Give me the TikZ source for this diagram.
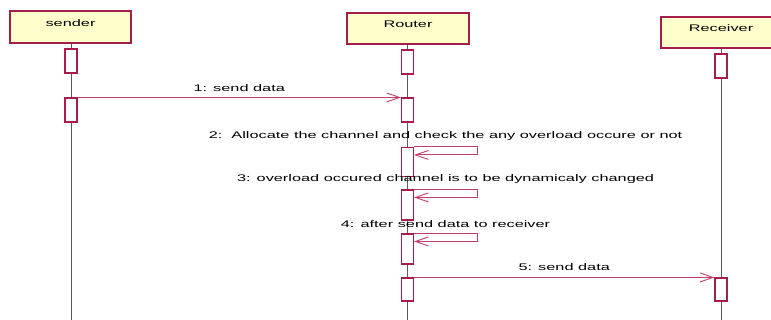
\documentclass[tikz,border=0pt]{standalone}
\usepackage{fontspec}
\setmainfont{Liberation Sans}[FakeStretch=1.7]
\usetikzlibrary{arrows.meta}
\definecolor{umlred}{RGB}{165,30,75}
\definecolor{msgred}{RGB}{195,60,110}
\definecolor{umlyellow}{RGB}{255,255,204}
\tikzstyle{line} = [draw=msgred, line width=0.9pt, -{Straight Barb[length=13pt,width=9pt]}]
\tikzstyle{head} = [rectangle, draw=umlred, line width=1.1pt, fill=umlyellow, minimum width=121pt, minimum height=32pt, text height=7pt, text depth=8pt, font=\fontsize{9.6}{11}\selectfont]
\tikzstyle{act} = [rectangle, draw=umlred, line width=1.1pt, fill=white, minimum width=12pt, minimum height=24pt, inner sep=0pt]
\tikzstyle{life} = [draw=black!65, line width=0.9pt]
\tikzstyle{msg} = [above=2pt, font=\fontsize{9.6}{11}\selectfont]

\begin{document}
\begin{tikzpicture}[x=1pt, y=-1pt]
	\clip (0,0) rectangle (771,320);
	\node [head] (sender) at (70.5,27) {sender};
	\node [head, minimum width=122pt, minimum height=31pt] (router) at (408,28.5) {Router};
	\node [head, minimum width=120pt, minimum height=31pt] (receiver) at (721,32.5) {Receiver};
	
	\coordinate (senderend) at (71,320);
	\coordinate (routerend) at (407.5,320);
	\coordinate (receiverend) at (721,320);
	\path [life] (sender.south -| senderend) to (senderend);
	\path [life] (router.south -| routerend) to (routerend);
	\path [life] (receiver.south -| receiverend) to (receiverend);
	
	\node [act] (s1) at (71,61) {};
	\node [act] (s2) at (71,110) {};
	\node [act] (r1) at (407.5,62) {};
	\node [act] (r2) at (407.5,110) {};
	\node [act, minimum height=29pt] (r3) at (407.5,162) {};
	\node [act, minimum height=30pt] (r4) at (407.5,205) {};
	\node [act, minimum height=30pt] (r5) at (407.5,249) {};
	\node [act, minimum height=23pt] (r6) at (407.5,289.5) {};
	\node [act] (v1) at (721,66) {};
	\node [act, minimum height=23pt] (v2) at (721,289.5) {};
	
	\path [line] (s2.north east) to node [msg] {1: send data} (r2.north west);
	
	\path [line] (r3.north east) to node [msg, yshift=1pt] {2:\ \ Allocate the channel and check the any overload occure or not} ++(63,0) -- ++(0,8) -- ([yshift=-8pt]r3.north east);
	\path [line] (r4.north east) to node [msg] {3: overload occured channel is to be dynamicaly changed} ++(63,0) -- ++(0,8) -- ([yshift=-8pt]r4.north east);
	\path [line] (r5.north east) to node [msg] {4: after send data to receiver} ++(63,0) -- ++(0,8) -- ([yshift=-8pt]r5.north east);
	
	\path [line] (r6.north east) to node [msg, yshift=1pt] {5: send data} (v2.north west);
\end{tikzpicture}
\end{document}
